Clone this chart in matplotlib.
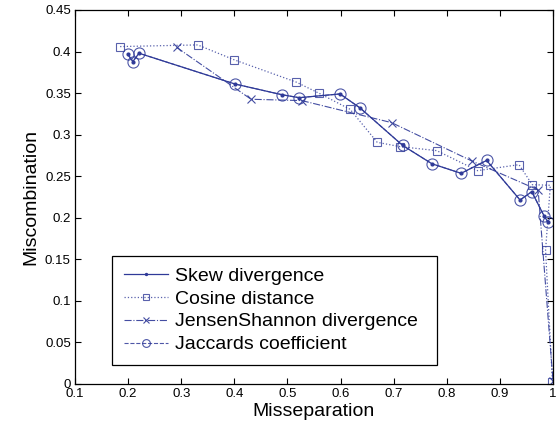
import matplotlib
matplotlib.use("Agg")
import matplotlib.pyplot as plt

plt.rcParams['font.family'] = ['Liberation Sans', 'DejaVu Sans']

skew_x = [0.199, 0.209, 0.2205, 0.401, 0.490, 0.522, 0.599, 0.637, 0.717, 0.772, 0.827, 0.875, 0.938, 0.960, 0.983, 0.990]
skew_y = [0.397, 0.388, 0.398, 0.361, 0.348, 0.3445, 0.349, 0.332, 0.287, 0.265, 0.2535, 0.269, 0.2214, 0.2314, 0.2025, 0.1953]

cos_x = [0.185, 0.331, 0.400, 0.516, 0.559, 0.618, 0.669, 0.712, 0.781, 0.858, 0.936, 0.961, 0.995, 0.986, 0.999]
cos_y = [0.406, 0.408, 0.390, 0.3634, 0.350, 0.3305, 0.2908, 0.2856, 0.2808, 0.2567, 0.2639, 0.2398, 0.2391, 0.161, 0.002]

js_x = [0.2915, 0.4315, 0.527, 0.696, 0.847, 0.972, 1.0]
js_y = [0.405, 0.3426, 0.341, 0.3145, 0.2684, 0.2335, 0.004]

jac_x = list(skew_x)
jac_y = list(skew_y)

xticks = [0.1, 0.2, 0.3, 0.4, 0.5, 0.6, 0.7, 0.8, 0.9, 1.0]
xticklabels = ['0.1', '0.2', '0.3', '0.4', '0.5', '0.6', '0.7', '0.8', '0.9', '1']
yticks = [0, 0.05, 0.1, 0.15, 0.2, 0.25, 0.3, 0.35, 0.4, 0.45]
yticklabels = ['0', '0.05', '0.1', '0.15', '0.2', '0.25', '0.3', '0.35', '0.4', '0.45']

col = '#2f3a98'
fig = plt.figure(figsize=(5.58, 4.32), dpi=100)
ax = fig.add_axes([75/558, 48/432, 478/558, 374/432])

ax.plot(skew_x, skew_y, '-', color=col, lw=0.9, marker='.', ms=4, label='Skew divergence')
ax.plot(cos_x, cos_y, ':', color=col, lw=0.9, marker='s', ms=6, mfc='none', mew=0.8, alpha=0.8, label='Cosine distance')
ax.plot(js_x, js_y, '-.', color=col, lw=0.8, marker='x', ms=6, mew=0.8, alpha=0.9, label='JensenShannon divergence')
ax.plot(jac_x, jac_y, '--', color=col, lw=0.8, marker='o', ms=8, mfc='none', mew=0.8, alpha=0.85, label='Jaccards coefficient')

ax.set_xlim(0.1, 1.0)
ax.set_ylim(0, 0.45)
ax.set_xticks(xticks)
ax.set_xticklabels(xticklabels, fontsize=9.5)
ax.set_yticks(yticks)
ax.set_yticklabels(yticklabels, fontsize=9.5)
ax.tick_params(direction='in', top=True, right=True, length=4, width=0.8, pad=3)
for s in ax.spines.values():
    s.set_linewidth(0.9)

ax.set_xlabel('Misseparation', fontsize=14, labelpad=2)
ax.set_ylabel('Miscombination', fontsize=14, labelpad=4)

leg = ax.legend(loc='lower left', bbox_to_anchor=(37/478, 19/374, 325/478, 108/374), mode='expand',
                fontsize=14, fancybox=False, framealpha=1, edgecolor='black',
                handlelength=2.3, borderaxespad=0, labelspacing=0.3, handletextpad=0.35,
                borderpad=0.6, handleheight=0.6, markerscale=0.7)
leg.get_frame().set_linewidth(0.9)

fig.savefig('out.png', dpi=100)
